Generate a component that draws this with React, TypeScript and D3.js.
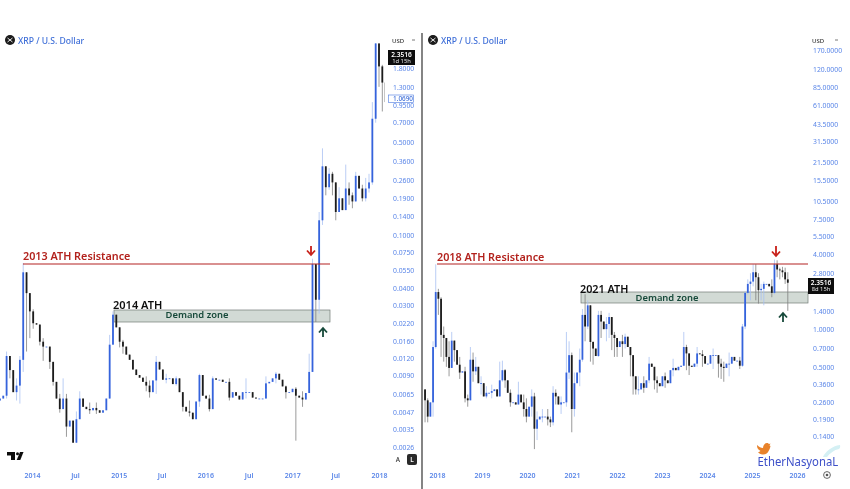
import React, { useRef, useEffect } from 'react';
import * as d3 from 'd3';

// left chart: 2 week candles from Aug 2013
const leftStart = '2013-08-19';
const leftOpen = 0.0058;
const leftCloses = [
  0.006, 0.0063, 0.0125, 0.0098, 0.0067, 0.0075, 0.0117, 0.053, 0.037, 0.027,
  0.022, 0.0215, 0.016, 0.0147, 0.0147, 0.0113, 0.008, 0.006, 0.005, 0.006,
  0.0037, 0.0041, 0.0028, 0.0042, 0.006, 0.0052, 0.005, 0.0049, 0.0051, 0.0049,
  0.0047, 0.0049, 0.006, 0.0152, 0.0255, 0.0205, 0.016, 0.0147, 0.0128, 0.0117,
  0.0099, 0.009, 0.0086, 0.008, 0.0075, 0.0067, 0.0082, 0.0113, 0.0099, 0.0083,
  0.0085, 0.0085, 0.0077, 0.0085, 0.0067, 0.0052, 0.0048, 0.0047, 0.0042, 0.0057,
  0.009, 0.0063, 0.006, 0.005, 0.0085, 0.0083, 0.0083, 0.008, 0.008, 0.0061,
  0.0067, 0.0063, 0.0059, 0.0067, 0.0067, 0.0067, 0.0061, 0.006, 0.006, 0.006,
  0.0078, 0.008, 0.0085, 0.0092, 0.0083, 0.0074, 0.0067, 0.0067, 0.0071, 0.0063,
  0.0061, 0.0059, 0.0066, 0.0095, 0.061, 0.033, 0.13, 0.33, 0.23, 0.29,
  0.25, 0.15, 0.19, 0.155, 0.225, 0.2, 0.18, 0.28, 0.225, 0.19,
  0.225, 0.25, 0.75, 2.75, 1.85, 1.4, 1.0,
];
// candle index -> [high, low], only where a wick can be read
const leftWicks: Record<number, [number, number]> = {
  2: [0.0135, 0.006], 3: [0.0125, 0.0085], 5: [0.0085, 0.0058], 6: [0.0125, 0.0055],
  7: [0.062, 0.0095], 8: [0.053, 0.0135], 9: [0.03, 0.017], 10: [0.028, 0.02],
  12: [0.0215, 0.015], 13: [0.017, 0.0115], 15: [0.0125, 0.01], 16: [0.0095, 0.0075],
  18: [0.0065, 0.0047], 19: [0.0085, 0.005], 20: [0.0065, 0.0031], 23: [0.0048, 0.0028],
  24: [0.0068, 0.0042], 27: [0.0056, 0.0046], 29: [0.0056, 0.0046], 33: [0.018, 0.0095],
  34: [0.027, 0.016], 36: [0.02, 0.0145], 37: [0.0165, 0.013], 44: [0.0088, 0.0068],
  45: [0.0082, 0.0061], 47: [0.0125, 0.0065], 50: [0.0092, 0.0078], 53: [0.0088, 0.0075],
  55: [0.0065, 0.0048], 57: [0.0058, 0.0044], 60: [0.0092, 0.0052], 63: [0.0064, 0.0048],
  64: [0.0088, 0.0058], 69: [0.0085, 0.0058], 74: [0.0085, 0.006], 80: [0.0088, 0.006],
  83: [0.0095, 0.0078], 86: [0.0075, 0.006], 89: [0.0073, 0.0029], 91: [0.0068, 0.0052],
  93: [0.013, 0.0085], 94: [0.067, 0.0095], 95: [0.055, 0.0225], 96: [0.15, 0.026],
  97: [0.45, 0.12], 98: [0.33, 0.2], 99: [0.32, 0.22], 100: [0.3, 0.2], 101: [0.25, 0.13],
  102: [0.23, 0.15], 104: [0.34, 0.17], 105: [0.25, 0.17], 106: [0.21, 0.16], 107: [0.3, 0.19],
  109: [0.24, 0.18], 110: [0.27, 0.18], 111: [0.29, 0.21], 112: [1.0, 0.24], 113: [2.8, 0.7],
  114: [2.7, 1.3], 115: [1.9, 0.85], 116: [1.5, 0.5],
};
const leftYearTicks = ['2014-01-01', '2014-07-01', '2015-01-01', '2015-07-01', '2016-01-01', '2016-07-01', '2017-01-01', '2017-07-01', '2018-01-01'];
const leftPriceTicks = [1.8, 1.3, 0.95, 0.7, 0.5, 0.36, 0.26, 0.19, 0.14, 0.1, 0.075, 0.055, 0.04, 0.03, 0.022, 0.016, 0.012, 0.009, 0.0065, 0.0047, 0.0035, 0.0026];

// right chart: roughly 3 week candles from Sep 2017
const rightStart = '2017-09-26';
const rightOpen = 0.33;
const rightCloses = [
  0.27, 0.2, 0.26, 0.72, 1.98, 1.75, 0.9, 0.85, 0.6, 0.49,
  0.81, 0.68, 0.52, 0.45, 0.46, 0.28, 0.27, 0.57, 0.46, 0.5,
  0.37, 0.37, 0.29, 0.31, 0.31, 0.32, 0.33, 0.29, 0.39, 0.47,
  0.39, 0.31, 0.26, 0.26, 0.25, 0.3, 0.26, 0.23, 0.2, 0.24,
  0.29, 0.16, 0.19, 0.2, 0.2, 0.2, 0.19, 0.18, 0.31, 0.29,
  0.25, 0.26, 0.26, 0.45, 0.62, 0.23, 0.37, 0.45, 0.57, 1.3,
  1.05, 1.55, 0.79, 0.7, 0.61, 1.3, 1.15, 1.0, 1.1, 1.25,
  0.9, 0.85, 0.72, 0.8, 0.76, 0.87, 0.72, 0.62, 0.42, 0.33,
  0.33, 0.37, 0.34, 0.39, 0.53, 0.5, 0.39, 0.37, 0.35, 0.42,
  0.39, 0.37, 0.47, 0.49, 0.47, 0.5, 0.51, 0.72, 0.64, 0.51,
  0.5, 0.53, 0.64, 0.63, 0.61, 0.53, 0.53, 0.62, 0.62, 0.62,
  0.53, 0.5, 0.49, 0.53, 0.53, 0.6, 0.56, 0.56, 0.51, 1.05,
  1.95, 2.3, 2.4, 2.85, 2.6, 2.05, 2.1, 2.3, 2.3, 2.2,
  1.95, 3.3, 3.0, 2.95, 2.85, 2.5, 2.35,
];
const rightWicks: Record<number, [number, number]> = {
  0: [0.32, 0.18], 1: [0.28, 0.18], 3: [0.8, 0.2], 4: [3.3, 0.7], 5: [2.1, 1.3], 6: [1.8, 0.6],
  7: [1.05, 0.55], 8: [0.75, 0.5], 9: [0.8, 0.42], 10: [0.95, 0.6], 11: [0.8, 0.55], 13: [0.6, 0.4],
  15: [0.5, 0.26], 16: [0.3, 0.24], 17: [0.72, 0.27], 18: [0.65, 0.38], 19: [0.6, 0.43], 21: [0.42, 0.3],
  23: [0.35, 0.28], 25: [0.36, 0.28], 28: [0.55, 0.36], 29: [0.56, 0.38], 30: [0.48, 0.34], 32: [0.33, 0.24],
  35: [0.38, 0.27], 37: [0.3, 0.2], 38: [0.28, 0.18], 40: [0.33, 0.2], 41: [0.31, 0.11], 42: [0.22, 0.13],
  44: [0.23, 0.18], 46: [0.23, 0.17], 47: [0.2, 0.165], 48: [0.35, 0.17], 49: [0.33, 0.25], 51: [0.29, 0.21],
  53: [0.95, 0.24], 54: [0.8, 0.4], 55: [0.65, 0.15], 56: [0.45, 0.2], 58: [0.7, 0.35], 59: [1.45, 0.55],
  60: [1.9, 0.8], 61: [1.7, 1.0], 62: [1.0, 0.55], 63: [0.8, 0.52], 65: [1.4, 0.6], 66: [1.4, 0.85],
  68: [1.25, 0.8], 69: [1.35, 0.85], 70: [1.0, 0.68], 71: [0.95, 0.6], 72: [0.85, 0.6], 74: [0.9, 0.6],
  75: [0.92, 0.7], 77: [0.72, 0.42], 78: [0.5, 0.3], 79: [0.42, 0.3], 80: [0.42, 0.3], 82: [0.42, 0.31],
  84: [0.6, 0.37], 86: [0.5, 0.33], 87: [0.42, 0.31], 90: [0.45, 0.34], 93: [0.58, 0.42], 97: [0.95, 0.62],
  98: [0.75, 0.47], 99: [0.58, 0.43], 102: [0.72, 0.5], 104: [0.68, 0.5], 108: [0.7, 0.48], 110: [0.55, 0.41],
  111: [0.58, 0.4], 112: [0.55, 0.38], 114: [0.65, 0.42], 118: [0.6, 0.48], 119: [1.1, 0.5], 120: [2.0, 1.0],
  121: [2.5, 1.9], 122: [2.8, 1.7], 123: [3.3, 2.2], 124: [3.3, 1.7], 125: [2.8, 1.6], 126: [2.3, 1.7],
  127: [2.4, 1.55], 130: [2.5, 1.8], 131: [3.6, 1.9], 132: [3.55, 2.6], 133: [3.1, 2.5], 134: [3.15, 2.6],
  135: [3.1, 2.3], 136: [2.85, 1.4],
};
const rightYearTicks = ['2018-01-01', '2019-01-01', '2020-01-01', '2021-01-01', '2022-01-01', '2023-01-01', '2024-01-01', '2025-01-01', '2026-01-01'];
const rightPriceTicks = [170, 120, 85, 61, 43.5, 31.5, 21.5, 15.5, 10.5, 7.5, 5.5, 4, 2.8, 1.4, 1, 0.7, 0.5, 0.36, 0.26, 0.19, 0.14];

const UP = '#3563dc';
const UP_WICK = '#a9c2f2';
const DOWN = '#1c1c1c';
const DOWN_WICK = '#808080';
const AXIS_BLUE = '#5a86e8';
const RED = '#b3231f';
const GREEN = '#184a3a';
const FONT = '"Noto Sans", sans-serif';

type PanelCfg = {
  clipId: string;
  start: string;
  stepDays: number;
  firstOpen: number;
  closes: number[];
  wicks: Record<number, [number, number]>;
  x: d3.ScaleTime<number, number>;
  y: d3.ScaleLogarithmic<number, number>;
  yearTicks: string[];
  priceTicks: number[];
  axisX: number;
  bodyW: number;
};

type G = d3.Selection<SVGGElement, unknown, null, undefined>;

function drawPanel(g: G, cfg: PanelCfg) {
  const { x, y } = cfg;
  const t0 = new Date(cfg.start + 'T00:00:00Z').getTime();
  const rows = cfg.closes.map((c, i) => {
    const o = i === 0 ? cfg.firstOpen : cfg.closes[i - 1];
    const w = cfg.wicks[i] || [Math.max(o, c), Math.min(o, c)];
    return {
      date: new Date(t0 + i * cfg.stepDays * 864e5),
      o,
      c,
      h: Math.max(o, c, w[0]),
      l: Math.min(o, c, w[1]),
    };
  });
  const candles = g.append('g').attr('clip-path', `url(#${cfg.clipId})`);
  candles
    .selectAll('line')
    .data(rows)
    .enter()
    .append('line')
    .attr('x1', (d) => x(d.date))
    .attr('x2', (d) => x(d.date))
    .attr('y1', (d) => y(d.h))
    .attr('y2', (d) => y(d.l))
    .attr('stroke', (d) => (d.c >= d.o ? UP_WICK : DOWN_WICK))
    .attr('stroke-width', 0.8);
  candles
    .selectAll('rect')
    .data(rows)
    .enter()
    .append('rect')
    .attr('x', (d) => x(d.date) - cfg.bodyW / 2)
    .attr('width', cfg.bodyW)
    .attr('y', (d) => y(Math.max(d.o, d.c)))
    .attr('height', (d) => Math.max(0.8, y(Math.min(d.o, d.c)) - y(Math.max(d.o, d.c))))
    .attr('fill', (d) => (d.c >= d.o ? UP : DOWN));

  // axes
  const fmt = d3.utcFormat('%Y');
  const xAxis = d3
    .axisBottom(x)
    .tickValues(cfg.yearTicks.map((s) => new Date(s + 'T00:00:00Z')))
    .tickSize(0)
    .tickFormat((d) => ((d as Date).getUTCMonth() === 0 ? fmt(d as Date) : 'Jul'));
  const xg = g.append('g').attr('transform', 'translate(0,470)').call(xAxis);
  xg.select('.domain').remove();
  xg.selectAll('text')
    .attr('dy', 0)
    .attr('y', 8)
    .attr('fill', AXIS_BLUE)
    .attr('font-family', FONT)
    .attr('font-weight', 600)
    .attr('font-size', 7);

  const yAxis = d3
    .axisRight(y)
    .tickValues(cfg.priceTicks)
    .tickSize(0)
    .tickFormat(d3.format('.4f') as any);
  const yg = g.append('g').attr('transform', `translate(${cfg.axisX},0)`).call(yAxis);
  yg.select('.domain').remove();
  yg.selectAll('text')
    .attr('x', 0)
    .attr('fill', AXIS_BLUE)
    .attr('font-family', FONT)
    .attr('font-size', 6.8);
}

function addArrow(g: G, cx: number, y1: number, y2: number, color: string) {
  const dir = y2 > y1 ? 1 : -1;
  g.append('path')
    .attr('d', `M${cx},${y1}L${cx},${y2}M${cx - 4},${y2 - dir * 4.5}L${cx},${y2}L${cx + 4},${y2 - dir * 4.5}`)
    .attr('fill', 'none')
    .attr('stroke', color)
    .attr('stroke-width', 1.8);
}

function addZone(g: G, x1: number, x2: number, y1: number, y2: number) {
  g.append('rect')
    .attr('x', x1)
    .attr('y', y1)
    .attr('width', x2 - x1)
    .attr('height', y2 - y1)
    .attr('fill', '#d2dad5')
    .attr('stroke', '#737b77')
    .attr('stroke-width', 0.7);
}

function addLabel(g: G, txt: string, px: number, py: number, color: string, size: number, weight = 500, anchor = 'start') {
  return g
    .append('text')
    .attr('x', px)
    .attr('y', py)
    .attr('fill', color)
    .attr('font-family', FONT)
    .attr('font-size', size)
    .attr('font-weight', weight)
    .attr('text-anchor', anchor)
    .text(txt);
}

function addHeader(g: G, cx: number) {
  g.append('circle').attr('cx', cx).attr('cy', 40).attr('r', 5).attr('fill', '#1a1a1a');
  g.append('path')
    .attr('d', `M${cx - 2.5},${38}L${cx + 2.5},${42}M${cx + 2.5},${38}L${cx - 2.5},${42}`)
    .attr('stroke', '#fff')
    .attr('stroke-width', 0.9);
  addLabel(g, 'XRP / U.S. Dollar', cx + 8, 43.5, '#3f6fd8', 8.6);
}

// both lines live in one text element, the tag is too short for two
function addPriceBox(g: G, bx: number, by: number, w: number, h: number, line1: string, line2: string) {
  g.append('rect').attr('x', bx).attr('y', by).attr('width', w).attr('height', h).attr('fill', '#0d0d0d');
  const t = g
    .append('text')
    .attr('font-family', FONT)
    .attr('text-anchor', 'middle')
    .attr('fill', '#fff');
  t.append('tspan').attr('x', bx + w / 2).attr('y', by + 6.8).attr('font-size', 6.6).attr('font-weight', 600).text(line1);
  t.append('tspan').attr('x', bx + w / 2).attr('y', by + 12.8).attr('font-size', 5.8).attr('fill', '#e4e4e4').text(line2);
}

function addUsd(g: G, bx: number, w: number) {
  g.append('rect').attr('x', bx).attr('y', 33).attr('width', w).attr('height', 14).attr('fill', '#fff');
  addLabel(g, 'USD', bx + 2, 42.5, '#333', 6);
  g.append('path')
    .attr('d', `M${bx + w - 7},40l3,0`)
    .attr('stroke', '#555')
    .attr('stroke-width', 0.8);
}

const App: React.FC = () => {
  const ref = useRef<SVGSVGElement | null>(null);
  useEffect(() => {
    if (!ref.current) return;
    const svg = d3.select(ref.current);
    svg.selectAll('*').remove();
    const defs = svg.append('defs');
    defs.append('clipPath').attr('id', 'clipL').append('rect').attr('x', 0).attr('y', 43).attr('width', 385).attr('height', 430);
    defs.append('clipPath').attr('id', 'clipR').append('rect').attr('x', 424).attr('y', 43).attr('width', 385).attr('height', 430);
    const blur = defs.append('filter').attr('id', 'soft');
    blur.append('feGaussianBlur').attr('stdDeviation', 0.4);

    svg.append('rect').attr('width', 850).attr('height', 489).attr('fill', '#fff');
    const g = svg.append('g').attr('filter', 'url(#soft)');

    // demand zones sit under the candles
    addZone(g, 114, 330, 310, 322);
    addZone(g, 581, 808, 292, 303);

    const leftX = d3
      .scaleUtc()
      .domain([new Date('2014-01-01T00:00:00Z'), new Date('2018-01-01T00:00:00Z')])
      .range([32, 379]);
    const leftY = d3.scaleLog().domain([0.0026, 1.8]).range([447, 68]);
    drawPanel(g, {
      clipId: 'clipL',
      start: leftStart,
      stepDays: 14,
      firstOpen: leftOpen,
      closes: leftCloses,
      wicks: leftWicks,
      x: leftX,
      y: leftY,
      yearTicks: leftYearTicks,
      priceTicks: leftPriceTicks,
      axisX: 393,
      bodyW: 1.8,
    });

    const rightX = d3
      .scaleUtc()
      .domain([new Date('2018-01-01T00:00:00Z'), new Date('2026-01-01T00:00:00Z')])
      .range([437, 797]);
    const rightY = d3.scaleLog().domain([0.14, 120]).range([436, 69]);
    drawPanel(g, {
      clipId: 'clipR',
      start: rightStart,
      stepDays: 21.65,
      firstOpen: rightOpen,
      closes: rightCloses,
      wicks: rightWicks,
      x: rightX,
      y: rightY,
      yearTicks: rightYearTicks,
      priceTicks: rightPriceTicks,
      axisX: 813,
      bodyW: 1.8,
    });

    // resistance lines
    g.append('line').attr('x1', 23).attr('x2', 330).attr('y1', 264).attr('y2', 264).attr('stroke', RED).attr('stroke-width', 1.2);
    g.append('line').attr('x1', 437).attr('x2', 808).attr('y1', 264).attr('y2', 264).attr('stroke', RED).attr('stroke-width', 1.2);

    addLabel(g, '2013 ATH Resistance', 23, 259.5, RED, 10.8, 600);
    addLabel(g, '2018 ATH Resistance', 437, 261, RED, 10.8, 600);
    addLabel(g, '2014 ATH', 113, 309, '#111', 11, 600);
    addLabel(g, '2021 ATH', 580, 293, '#111', 10.8, 600);
    addLabel(g, 'Demand zone', 197, 318, GREEN, 9.4, 600, 'middle');
    addLabel(g, 'Demand zone', 667, 301, GREEN, 9.4, 600, 'middle');

    addArrow(g, 311, 246, 255, '#c8201a');
    addArrow(g, 323, 337, 328, GREEN);
    addArrow(g, 776, 246, 256, '#c8201a');
    addArrow(g, 783, 322, 313, GREEN);

    // panel divider
    g.append('line').attr('x1', 422).attr('x2', 422).attr('y1', 33).attr('y2', 489).attr('stroke', '#222').attr('stroke-width', 1.1);

    addHeader(g, 10);
    addHeader(g, 433);
    addUsd(g, 390, 29);
    addUsd(g, 810, 32);
    addPriceBox(g, 388, 50, 27, 15, '2.3516', '1d 15h');
    addPriceBox(g, 808, 278, 26, 16, '2.3516', '8d 15h');

    // last price tag on the left chart
    g.append('rect').attr('x', 388.5).attr('y', 95).attr('width', 25).attr('height', 7.6).attr('fill', '#fff').attr('stroke', '#4a78e0').attr('stroke-width', 0.6);
    addLabel(g, '1.0690', 393, 101.2, '#3f6fd8', 6.4);

    // tradingview mark
    g.append('path').attr('d', 'M7,452h8v8h-4v-4.5h-4z').attr('fill', '#111');
    g.append('circle').attr('cx', 17.5).attr('cy', 453.8).attr('r', 1.5).attr('fill', '#111');
    g.append('path').attr('d', 'M20,452h3.5l-3.2,8h-3.6z').attr('fill', '#111');

    // auto / log buttons
    addLabel(g, 'A', 398, 462, '#333', 6.5, 500, 'middle');
    g.append('rect').attr('x', 407).attr('y', 454).attr('width', 10).attr('height', 11).attr('rx', 2).attr('fill', '#2a2a2a');
    addLabel(g, 'L', 412, 462, '#fff', 6.5, 600, 'middle');

    // settings button
    g.append('circle').attr('cx', 827).attr('cy', 475).attr('r', 3.4).attr('fill', 'none').attr('stroke', '#555').attr('stroke-width', 0.9);
    g.append('circle').attr('cx', 827).attr('cy', 475).attr('r', 1.3).attr('fill', '#555');

    // watermark
    g.append('path')
      .attr('d', 'M757,445c2,2 4,3 6,3c0,-3 2,-5 4,-5c1,0 1.5,.5 2,1l1.5,-.5l-1,2l1,.5c-1,5 -3.5,9 -8,8.5c-2,0 -3.5,-1 -4.5,-2.5c1,0 2,-.5 2.5,-1c-2,-1 -3.5,-3 -3.5,-5z')
      .attr('fill', '#e8822c');
    g.append('path')
      .attr('d', 'M823,457c2,-5 9,-11 17,-12c.5,2 0,3 -1,4c-5,1 -9,4 -12,8z')
      .attr('fill', '#d4f0f4');
    addLabel(g, 'EtherNasyonaL', 0, 0, '#3c4fc8', 13.5, 400).attr('transform', 'translate(757.5,466) scale(0.84,1)');
  }, []);
  return <svg ref={ref} width={850} height={489} style={{ position: 'absolute', left: 0, top: 0, display: 'block' }} />;
};

export default App;
